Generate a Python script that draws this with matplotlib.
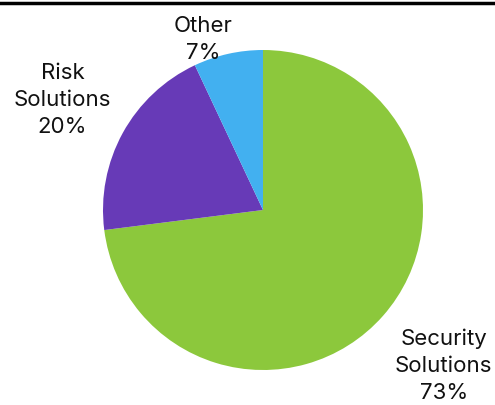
import numpy as np
import matplotlib

matplotlib.use("Agg")
import matplotlib.pyplot as plt
from matplotlib.lines import Line2D

labels = ["Security\nSolutions", "Risk\nSolutions", "Other"]
shares = [73, 20, 7]
colors = ["#8CC83C", "#673AB7", "#42B0F0"]
label_dist = [1.49, 1.43, 1.13]
label_shift = [0.7, 0.0, 6.8]  # degrees, nudge off the slice midpoint

plt.rcParams["font.family"] = ["Inter", "DejaVu Sans"]

fig = plt.figure(figsize=(4.95, 4.05), dpi=100)
ax = fig.add_axes([0, 0, 1, 1])
ax.pie(shares, colors=colors, startangle=90, counterclock=False,
       radius=1.0, center=(0, 0), wedgeprops=dict(linewidth=0))

start = 90.0
for lab, val, d, s in zip(labels, shares, label_dist, label_shift):
    span = 360.0 * val / sum(shares)
    mid = np.deg2rad(start - span / 2 + s)
    ax.text(d * np.cos(mid), d * np.sin(mid), f"{lab}\n{val}%",
            ha="center", va="center", fontsize=16, linespacing=1.45,
            fontweight="normal", color="#111111")
    start -= span

ax.set_xlim(-263 / 160, 232 / 160)
ax.set_ylim(-195 / 160, 210 / 160)
ax.set_aspect("equal")
ax.axis("off")

fig.add_artist(Line2D([0, 1], [1 - 3 / 405, 1 - 3 / 405], color="black",
                      linewidth=2.5, transform=fig.transFigure))

fig.savefig("out.png", dpi=100)
